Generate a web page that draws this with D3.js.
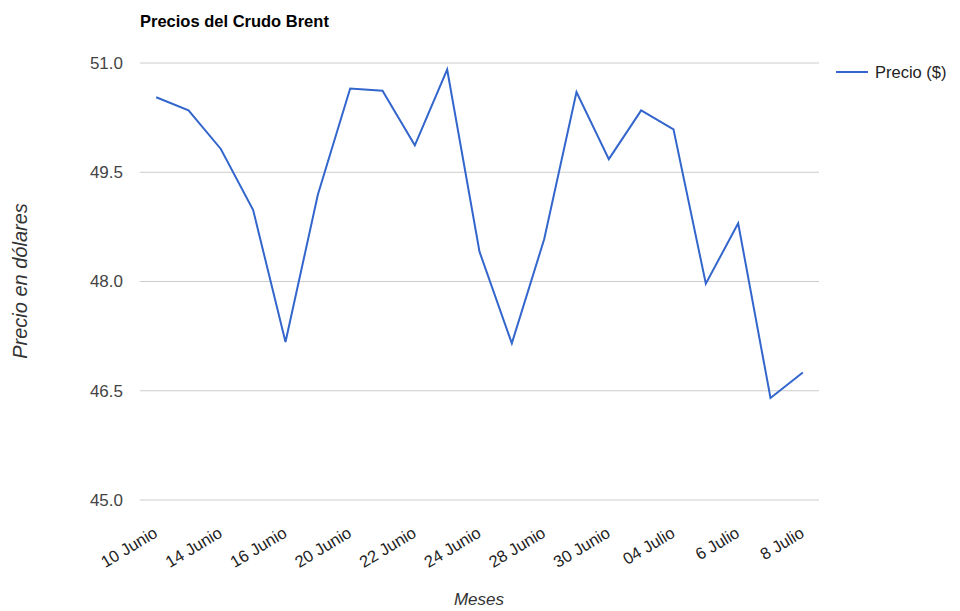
<!DOCTYPE html>
<html><head><meta charset="utf-8">
<script src="https://cdn.jsdelivr.net/npm/d3@7"></script>
<style>body{margin:0;background:#fff}svg{display:block}text{font-family:"Liberation Sans",Arial,sans-serif}</style>
</head><body><svg id="c" width="960" height="611"></svg>
<script>
const categories = ["10 Junio","13 Junio","14 Junio","15 Junio","16 Junio","17 Junio","20 Junio","21 Junio","22 Junio","23 Junio","24 Junio","27 Junio","28 Junio","29 Junio","30 Junio","01 Julio","04 Julio","05 Julio","6 Julio","7 Julio","8 Julio"];
const prices = [50.53,50.35,49.82,48.98,47.17,49.19,50.65,50.62,49.87,50.91,48.41,47.15,48.58,50.60,49.68,50.35,50.09,47.97,48.80,46.40,46.75];
const yTicks = [45.0,46.5,48.0,49.5,51.0];
const shownLabels = ["10 Junio","14 Junio","16 Junio","20 Junio","22 Junio","24 Junio","28 Junio","30 Junio","04 Julio","6 Julio","8 Julio"];
const seriesName = "Precio ($)";
const title = "Precios del Crudo Brent";
const xTitle = "Meses";
const yTitle = "Precio en dólares";

const svg = d3.select("#c");
const L = 140, R = 819, T = 63, B = 500;
const x = d3.scalePoint().domain(categories).range([L, R]).padding(0.5);
const y = d3.scaleLinear().domain([45, 51]).range([B, T]);

svg.append("text").attr("x", 140).attr("y", 27).attr("font-size", 16.5).attr("font-weight", "bold").attr("fill", "#000").text(title);

// grid
svg.append("g").selectAll("line").data(yTicks).join("line")
  .attr("x1", L).attr("x2", R).attr("y1", d => y(d)).attr("y2", d => y(d))
  .attr("stroke", "#cccccc").attr("stroke-width", 1);

const yAxis = svg.append("g").attr("transform", `translate(${L},0)`)
  .call(d3.axisLeft(y).tickValues(yTicks).tickFormat(d3.format(".1f")).tickSize(0).tickPadding(17));
yAxis.select(".domain").remove();
yAxis.selectAll("text").attr("font-size", 17).attr("fill", "#444").attr("font-family", "Liberation Sans, Arial, sans-serif");

const xAxis = svg.append("g").attr("transform", `translate(0,${B})`)
  .call(d3.axisBottom(x).tickValues(shownLabels).tickSize(0));
xAxis.select(".domain").remove();
xAxis.selectAll("text").attr("font-size", 16.5).attr("fill", "#222")
  .attr("font-family", "Liberation Sans, Arial, sans-serif")
  .attr("text-anchor", "end").attr("dy", null).attr("y", 0)
  .attr("transform", "translate(2,36) rotate(-31)");

svg.append("path").datum(prices)
  .attr("fill", "none").attr("stroke", "#3366cc").attr("stroke-width", 2)
  .attr("stroke-linejoin", "miter")
  .attr("d", d3.line().x((d, i) => x(categories[i])).y(d => y(d)));

// legend
svg.append("line").attr("x1", 836).attr("x2", 868).attr("y1", 72).attr("y2", 72).attr("stroke", "#3366cc").attr("stroke-width", 2);
svg.append("text").attr("x", 875).attr("y", 78).attr("font-size", 16.5).attr("fill", "#222").text(seriesName);

svg.append("text").attr("x", 479).attr("y", 605).attr("text-anchor", "middle").attr("font-size", 17).attr("font-style", "italic").attr("fill", "#333").text(xTitle);
svg.append("text").attr("transform", "translate(27,281) rotate(-90)").attr("text-anchor", "middle").attr("font-size", 20).attr("font-style", "italic").attr("fill", "#333").text(yTitle);
</script></body></html>
